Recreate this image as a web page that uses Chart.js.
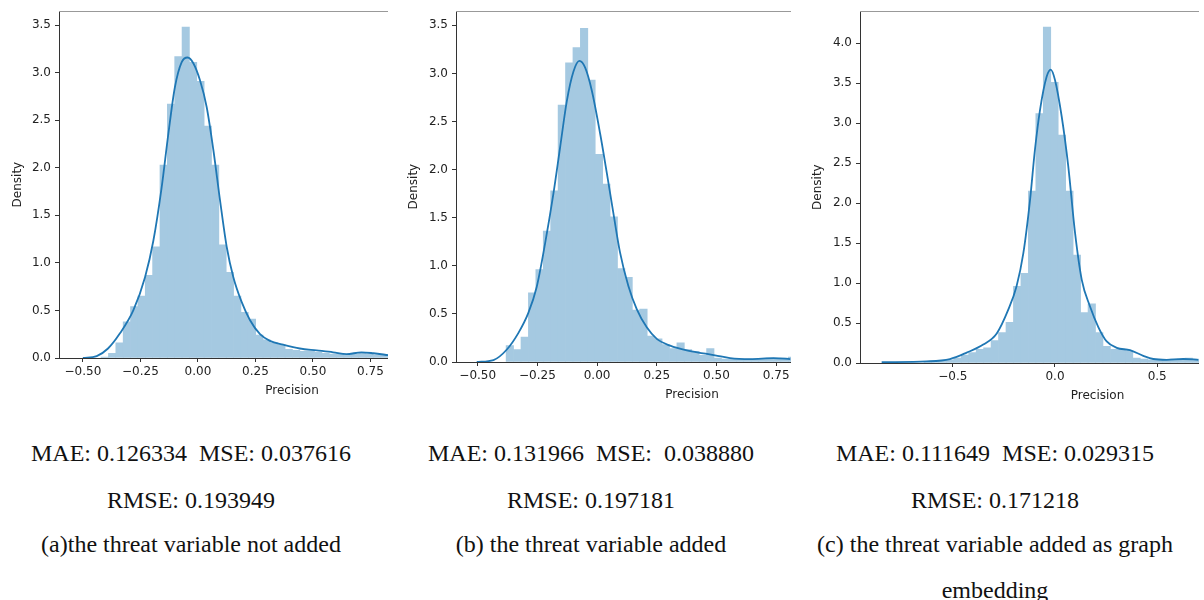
<!DOCTYPE html>
<html>
<head>
<meta charset="utf-8">
<script src="https://cdn.jsdelivr.net/npm/chart.js@4.4.0/dist/chart.umd.min.js"></script>
<style>
    body { margin: 0; background: #fff; width: 1204px; height: 600px; overflow: hidden; position: relative; }
    .panel { position: absolute; top: 0; height: 410px; overflow: hidden; }
    .cap { position: absolute; font-family: "Liberation Serif", serif; font-size: 24px; color: #111;
           white-space: pre; transform: translate(-50%, -50%); }
</style>
</head>
<body>
<div class="panel" style="left:0;width:388px"><canvas id="chartA" width="530" height="400"></canvas></div>
<div class="panel" style="left:396px;width:395px"><canvas id="chartB" width="537" height="404"></canvas></div>
<div class="panel" style="left:800px;width:399px"><canvas id="chartC" width="540" height="405"></canvas></div>
<div id="captions"></div>

<script>
// (a) threat variable not added - histogram bin centres / densities
const aBinX = [-0.405, -0.373, -0.341, -0.309, -0.277, -0.245, -0.213, -0.181, -0.149, -0.117,
               -0.085, -0.053, -0.021, 0.011, 0.043, 0.075, 0.107, 0.139, 0.171, 0.203,
               0.235, 0.267, 0.299, 0.331, 0.363, 0.395, 0.427, 0.459, 0.491, 0.523,
               0.555, 0.587, 0.619, 0.651, 0.683, 0.715, 0.747, 0.779, 0.811, 0.843];
const aBinY = [0.01, 0.05, 0.16, 0.38, 0.54, 0.65, 0.87, 1.17, 2.03, 2.67,
               3.17, 3.48, 3.11, 2.91, 2.44, 2.03, 1.19, 0.90, 0.65, 0.48,
               0.41, 0.24, 0.19, 0.16, 0.14, 0.09, 0.08, 0.07, 0.07, 0.06,
               0.05, 0.04, 0.04, 0.03, 0.04, 0.05, 0.04, 0.03, 0.03, 0.03];
// (a) kde curve
const aKdeX = [-0.50, -0.44, -0.391, -0.339, -0.281, -0.230, -0.194, -0.158, -0.129, -0.100,
               -0.071, -0.045, -0.020, 0.009, 0.038, 0.067, 0.096, 0.125, 0.154, 0.190,
               0.226, 0.270, 0.313, 0.371, 0.443, 0.516, 0.588, 0.646, 0.711, 0.763, 0.828];
const aKdeY = [0.00, 0.02, 0.10, 0.26, 0.50, 0.85, 1.23, 1.79, 2.35, 2.85,
               3.11, 3.16, 3.10, 2.92, 2.64, 2.19, 1.66, 1.17, 0.85, 0.59,
               0.40, 0.25, 0.18, 0.14, 0.10, 0.08, 0.06, 0.04, 0.06, 0.05, 0.03];

// (b) threat variable added
const bBinX = [-0.3655, -0.3344, -0.3033, -0.2722, -0.2411, -0.2100, -0.1789, -0.1478, -0.1167, -0.0856,
               -0.0545, -0.0234, 0.0077, 0.0388, 0.0699, 0.1010, 0.1321, 0.1632, 0.1943, 0.2254,
               0.2565, 0.2876, 0.3187, 0.3498, 0.3809, 0.4120, 0.4431, 0.4742, 0.5053, 0.5364,
               0.5675, 0.5986, 0.6297, 0.6608, 0.6919, 0.7230, 0.7541, 0.7852, 0.8163];
const bBinY = [0.17, 0.13, 0.26, 0.72, 0.96, 1.36, 1.78, 2.67, 3.11, 3.27,
               3.47, 2.93, 2.16, 1.85, 1.51, 0.97, 0.88, 0.54, 0.55, 0.27,
               0.24, 0.18, 0.14, 0.20, 0.13, 0.11, 0.07, 0.14, 0.04, 0.03,
               0.03, 0.03, 0.03, 0.03, 0.03, 0.04, 0.04, 0.04, 0.05];
const bKdeX = [-0.504, -0.434, -0.378, -0.330, -0.288, -0.253, -0.218, -0.183, -0.155, -0.127,
               -0.099, -0.074, -0.050, -0.022, 0.013, 0.041, 0.068, 0.096, 0.131, 0.166,
               0.208, 0.250, 0.306, 0.376, 0.445, 0.494, 0.557, 0.641, 0.739, 0.809];
const bKdeY = [0.00, 0.02, 0.13, 0.30, 0.51, 0.78, 1.23, 1.75, 2.23, 2.71,
               3.02, 3.13, 3.06, 2.82, 2.37, 1.96, 1.55, 1.14, 0.79, 0.55,
               0.36, 0.24, 0.17, 0.12, 0.09, 0.07, 0.04, 0.03, 0.04, 0.03];

// (c) threat variable added as graph embedding
const cBinX = [-0.623, -0.5865, -0.550, -0.5135, -0.477, -0.4405, -0.404, -0.3675, -0.331, -0.2945,
               -0.258, -0.2215, -0.185, -0.1485, -0.112, -0.0755, -0.039, -0.0025, 0.034, 0.0705,
               0.107, 0.1435, 0.180, 0.2165, 0.253, 0.2895, 0.326, 0.3625, 0.399, 0.4355,
               0.472, 0.5085, 0.545, 0.5815, 0.618, 0.6545, 0.691];
const cBinY = [0.01, 0.02, 0.03, 0.04, 0.06, 0.10, 0.13, 0.17, 0.19, 0.28,
               0.38, 0.51, 0.96, 1.12, 2.15, 3.12, 4.20, 3.51, 2.85, 2.15,
               1.35, 0.63, 0.74, 0.38, 0.21, 0.17, 0.17, 0.15, 0.06, 0.05,
               0.04, 0.04, 0.04, 0.05, 0.05, 0.06, 0.05];
const cKdeX = [-0.848, -0.628, -0.514, -0.432, -0.351, -0.285, -0.228, -0.188, -0.155, -0.122,
               -0.098, -0.073, -0.041, -0.021, 0.000, 0.033, 0.065, 0.098, 0.131, 0.171,
               0.212, 0.253, 0.302, 0.367, 0.432, 0.481, 0.546, 0.628, 0.701];
const cKdeY = [0.01, 0.02, 0.05, 0.13, 0.23, 0.37, 0.67, 0.96, 1.37, 2.04,
               2.67, 3.17, 3.58, 3.67, 3.54, 3.08, 2.46, 1.63, 1.04, 0.71,
               0.45, 0.27, 0.19, 0.16, 0.09, 0.05, 0.04, 0.05, 0.04];

// tick values
const abXTicks = [-0.5, -0.25, 0, 0.25, 0.5, 0.75];
const cXTicks = [-0.5, 0, 0.5];
const abYTicks = [0, 0.5, 1, 1.5, 2, 2.5, 3, 3.5];
const cYTicks = [0, 0.5, 1, 1.5, 2, 2.5, 3, 3.5, 4];

// captions under the panels
const capMetrics = ['MAE: 0.126334  MSE: 0.037616', 'MAE: 0.131966  MSE:  0.038880', 'MAE: 0.111649  MSE: 0.029315'];
const capRmse = ['RMSE: 0.193949', 'RMSE: 0.197181', 'RMSE: 0.171218'];
const capTitles = ['(a)the threat variable not added', '(b) the threat variable added', '(c) the threat variable added as graph'];
const capExtra = ['', '', 'embedding'];

const BAR_COLOR = 'rgb(165,201,225)';
const LINE_COLOR = '#1f77b4';
const AXIS_COLOR = '#333';

Chart.defaults.font.family = '"DejaVu Sans", sans-serif';
Chart.defaults.font.size = 12;
Chart.defaults.color = '#222';

function toPoints(xs, ys) {
    return xs.map((x, i) => ({ x: x, y: ys[i] }));
}

function fmt(v, digits) {
    const s = Math.abs(v).toFixed(digits);
    return v < -1e-9 ? '\u2212' + s : s;
}

function makeChart(id, p) {
    new Chart(document.getElementById(id), {
        type: 'bar',
        data: {
            datasets: [
                {
                    type: 'line',
                    data: toPoints(p.kdeX, p.kdeY),
                    borderColor: LINE_COLOR,
                    borderWidth: 1.8,
                    pointRadius: 0,
                    cubicInterpolationMode: 'monotone',
                    order: 0
                },
                {
                    data: toPoints(p.binX, p.binY),
                    backgroundColor: BAR_COLOR,
                    borderWidth: 0,
                    barPercentage: 1,
                    categoryPercentage: 1,
                    order: 1
                }
            ]
        },
        options: {
            responsive: false,
            animation: false,
            layout: { padding: { top: p.top, right: 5, left: 0, bottom: 0 } },
            plugins: { legend: { display: false }, tooltip: { enabled: false } },
            scales: {
                x: {
                    type: 'linear',
                    min: p.xMin,
                    max: p.xMax,
                    offset: false,
                    bounds: 'data',
                    afterBuildTicks: axis => { axis.ticks = p.xTicks.map(v => ({ value: v })); },
                    afterFit: s => { s.height = 42; },
                    ticks: { padding: 3, maxRotation: 0, autoSkip: false, callback: v => fmt(v, p.xDigits) },
                    grid: { display: true, offset: false, drawOnChartArea: false, drawTicks: true, tickLength: 4, color: AXIS_COLOR },
                    border: { display: true, color: AXIS_COLOR, width: 1 },
                    title: { display: true, text: 'Precision', padding: { top: 0, bottom: 1.5 } }
                },
                y: {
                    min: 0,
                    max: p.yMax,
                    bounds: 'data',
                    afterBuildTicks: axis => { axis.ticks = p.yTicks.map(v => ({ value: v })); },
                    afterFit: s => { s.width = p.yWidth; },
                    ticks: { padding: 4, autoSkip: false, callback: v => v.toFixed(1) },
                    grid: { display: true, drawOnChartArea: false, drawTicks: true, tickLength: 4, color: AXIS_COLOR },
                    border: { display: true, color: AXIS_COLOR, width: 1 },
                    title: { display: true, text: 'Density', padding: { top: 11, bottom: 0 } }
                },
                top: {
                    type: 'linear',
                    position: 'top',
                    min: 0,
                    max: 1,
                    afterFit: s => { s.height = 0; },
                    ticks: { display: false },
                    grid: { display: false },
                    border: { display: true, color: '#999', width: 1 }
                }
            }
        }
    });
}

makeChart('chartA', {
    binX: aBinX, binY: aBinY, kdeX: aKdeX, kdeY: aKdeY,
    xTicks: abXTicks, yTicks: abYTicks, xDigits: 2,
    xMin: -0.604, xMax: 1.422, yMax: 3.647, top: 11, yWidth: 59
});
makeChart('chartB', {
    binX: bBinX, binY: bBinY, kdeX: bKdeX, kdeY: bKdeY,
    xTicks: abXTicks, yTicks: abYTicks, xDigits: 2,
    xMin: -0.591, xMax: 1.386, yMax: 3.647, top: 10, yWidth: 60
});
makeChart('chartC', {
    binX: cBinX, binY: cBinY, kdeX: cKdeX, kdeY: cKdeY,
    xTicks: cXTicks, yTicks: cYTicks, xDigits: 1,
    xMin: -0.954, xMax: 1.370, yMax: 4.40, top: 11, yWidth: 60
});

// captions
const capCenters = [191, 591, 995];
const capRows = [[capMetrics, 453], [capRmse, 500], [capTitles, 544], [capExtra, 590]];
const capBox = document.getElementById('captions');
capRows.forEach(([texts, y]) => {
    texts.forEach((t, i) => {
        if (!t) return;
        const d = document.createElement('div');
        d.className = 'cap';
        d.style.left = capCenters[i] + 'px';
        d.style.top = y + 'px';
        d.textContent = t;
        capBox.appendChild(d);
    });
});
</script>
</body>
</html>
